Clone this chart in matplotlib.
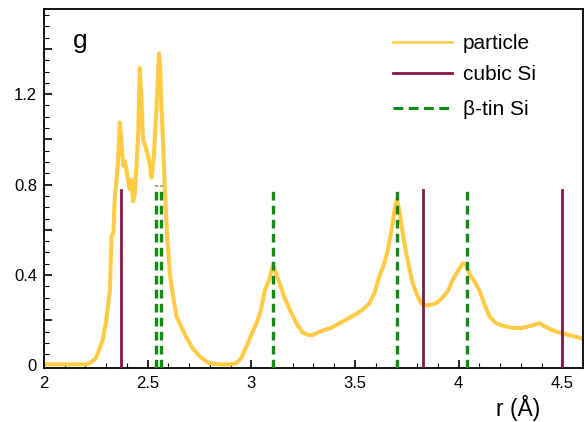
import matplotlib
matplotlib.use("Agg")
import matplotlib.pyplot as plt
from matplotlib.ticker import MultipleLocator, FuncFormatter
from matplotlib.lines import Line2D

plt.rcParams['font.family'] = ['Liberation Sans', 'DejaVu Sans']

# particle g(r)
r_particle = [2.00, 2.10, 2.20, 2.22, 2.25, 2.284, 2.30, 2.318, 2.326, 2.335, 2.342, 2.355,
              2.366, 2.372, 2.382, 2.390, 2.398, 2.405, 2.414, 2.422, 2.43, 2.438, 2.446,
              2.455, 2.462, 2.470, 2.478, 2.490, 2.502, 2.510, 2.519, 2.530, 2.543, 2.550,
              2.555, 2.560, 2.567, 2.575, 2.583, 2.595, 2.607, 2.620, 2.639, 2.660, 2.687,
              2.720, 2.751, 2.780, 2.80, 2.85, 2.90, 2.928, 2.950, 2.976, 3.000, 3.025,
              3.045, 3.065, 3.085, 3.105, 3.12, 3.137, 3.160, 3.185, 3.217, 3.249, 3.275,
              3.297, 3.320, 3.345, 3.385, 3.426, 3.466, 3.506, 3.540, 3.570, 3.595, 3.618,
              3.640, 3.658, 3.675, 3.691, 3.702, 3.712, 3.723, 3.735, 3.747, 3.763, 3.779,
              3.800, 3.819, 3.845, 3.875, 3.900, 3.923, 3.950, 3.972, 3.995, 4.020, 4.035,
              4.052, 4.075, 4.100, 4.125, 4.148, 4.180, 4.212, 4.260, 4.309, 4.350, 4.389,
              4.430, 4.470, 4.530, 4.598]
g_particle = [0.005, 0.005, 0.005, 0.010, 0.031, 0.114, 0.197, 0.332, 0.571, 0.592, 0.748, 0.873,
              1.075, 1.008, 0.883, 0.904, 0.863, 0.821, 0.779, 0.821, 0.727, 0.759, 0.883,
              1.029, 1.315, 1.185, 0.998, 0.967, 0.925, 0.894, 0.831, 0.925, 1.143, 1.289,
              1.380, 1.330, 1.143, 0.977, 0.779, 0.561, 0.405, 0.322, 0.218, 0.176, 0.124,
              0.072, 0.041, 0.020, 0.010, 0.005, 0.005, 0.010, 0.031, 0.083, 0.135, 0.187,
              0.239, 0.332, 0.374, 0.447, 0.405, 0.363, 0.301, 0.249, 0.187, 0.145, 0.135,
              0.135, 0.145, 0.155, 0.166, 0.187, 0.207, 0.228, 0.249, 0.275, 0.322, 0.395,
              0.447, 0.509, 0.592, 0.686, 0.733, 0.696, 0.629, 0.561, 0.499, 0.426, 0.363,
              0.311, 0.275, 0.265, 0.270, 0.280, 0.301, 0.332, 0.379, 0.415, 0.452, 0.447,
              0.405, 0.374, 0.332, 0.270, 0.218, 0.187, 0.176, 0.166, 0.166, 0.176, 0.187,
              0.166, 0.150, 0.135, 0.119]

# reference peak positions and heights
r_cubic = [2.37, 3.83, 4.50]
h_cubic = [0.775, 0.775, 0.775]
r_betatin = [2.54, 2.565, 3.105, 3.705, 4.04]
h_betatin = [0.80, 0.80, 0.78, 0.79, 0.78]

c_part = "#FFCB45"
c_cub = "#851848"
c_bt = "#138A13"
bt_dash = (0, (2.6, 1.6))

fig = plt.figure(figsize=(5.84, 4.22), dpi=100)
ax = fig.add_axes([0.0753, 0.128, 0.923, 0.851])

ax.plot(r_particle, g_particle, color=c_part, lw=2.9, zorder=2, solid_joinstyle="round")
for r, h in zip(r_cubic, h_cubic):
    ax.plot([r, r], [-0.011, h], color=c_cub, lw=2.0, zorder=3)
for r, h in zip(r_betatin, h_betatin):
    ax.plot([r, r], [-0.011, h], color=c_bt, lw=2.4, ls=bt_dash, zorder=4)

ax.set_xlim(2.0, 4.6)
ax.set_ylim(-0.011, 1.577)

ax.xaxis.set_major_locator(MultipleLocator(0.5))
ax.xaxis.set_minor_locator(MultipleLocator(0.1))
ax.yaxis.set_major_locator(MultipleLocator(0.2))
ax.yaxis.set_minor_locator(MultipleLocator(0.05))

def xfmt(v, pos):
    return f"{v:g}"

def yfmt(v, pos):
    k = round(v / 0.2)
    if k % 2 == 0 and v < 1.35:
        return f"{v:.1f}" if k != 0 else "0"
    return ""

ax.xaxis.set_major_formatter(FuncFormatter(xfmt))
ax.yaxis.set_major_formatter(FuncFormatter(yfmt))
ax.tick_params(which="both", direction="in", top=False, right=False, labelsize=12)
ax.tick_params(which="major", length=6, width=1.2)
ax.tick_params(which="minor", length=3.3, width=0.8)
ax.tick_params(axis="x", pad=6)
ax.tick_params(axis="y", pad=5)
for s in ax.spines.values():
    s.set_linewidth(1.3)

ax.text(0.054, 0.89, "g", transform=ax.transAxes, fontsize=19, va="baseline", ha="left")
fig.text(518 / 584, 1 - 408 / 422, "r (Å)", fontsize=16.5, ha="center", va="center")

h1 = [Line2D([], [], color=c_part, lw=1.8), Line2D([], [], color=c_cub, lw=2.0)]
h2 = [Line2D([], [], color=c_bt, lw=2.2, ls=(0, (3.2, 1.8)))]
leg_kw = dict(loc="upper left", frameon=False, fontsize=15, handlelength=2.84,
              handletextpad=0.5, borderpad=0, borderaxespad=0, labelspacing=0.55)
leg1 = ax.legend(h1, ["particle", "cubic Si"], bbox_to_anchor=(0.6475, 0.929), **leg_kw)
ax.add_artist(leg1)
ax.legend(h2, ["β-tin Si"], bbox_to_anchor=(0.6475, 0.7455), **leg_kw)

fig.savefig("out.png", dpi=100)
